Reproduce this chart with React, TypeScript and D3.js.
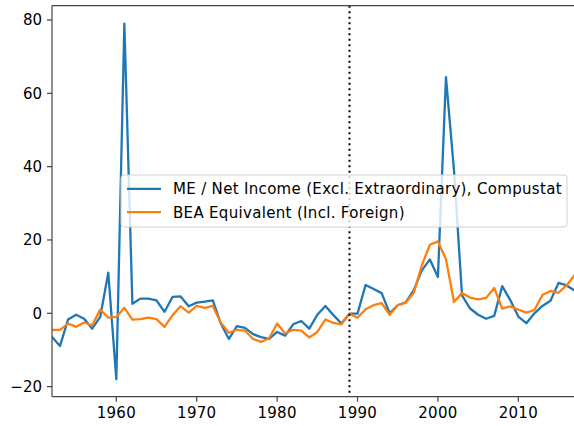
import React from "react";
import * as d3 from "d3";

const years: number[] = d3.range(1952, 2018);

const compustat: number[] = [
  -6.5, -8.9, -1.7, -0.4, -1.5, -4.2, -1.0, 11.1, -18.0, 79.0,
  2.6, 4.0, 4.0, 3.5, 0.4, 4.5, 4.6, 1.9, 2.9, 3.2,
  3.5, -2.8, -7.0, -3.5, -4.0, -5.7, -6.5, -7.0, -5.1, -6.1,
  -3.0, -2.1, -4.2, -0.4, 2.0, -0.5, -2.8, -0.1, -0.1, 7.7,
  6.6, 5.5, 0.0, 2.2, 3.0, 6.3, 11.7, 14.7, 9.9, 64.4,
  39.0, 4.9, 1.3, -0.4, -1.5, -0.7, 7.4, 3.6, -0.9, -2.7,
  0.0, 2.0, 3.4, 8.3, 7.6, 6.2,
];

const bea: number[] = [
  -4.5, -4.5, -2.8, -3.7, -2.5, -3.3, 1.0, -1.2, -1.0, 1.5,
  -1.7, -1.6, -1.2, -1.6, -3.7, -0.5, 1.9, 0.2, 2.0, 1.5,
  2.0, -2.6, -5.3, -4.5, -4.7, -7.0, -7.8, -6.8, -2.8, -5.5,
  -4.5, -4.7, -6.6, -5.1, -1.7, -2.6, -3.0, -0.1, -1.2, 1.1,
  2.2, 2.8, -0.4, 2.2, 2.9, 5.6, 13.1, 18.7, 19.6, 14.7,
  3.1, 5.5, 4.3, 3.8, 4.2, 6.9, 1.3, 1.9, 1.0, 0.2,
  0.9, 5.0, 6.1, 5.6, 7.6, 10.4,
];

const xTicks: number[] = [1960, 1970, 1980, 1990, 2000, 2010];
const yTicks: number[] = [-20, 0, 20, 40, 60, 80];
const seriesNames: string[] = [
  "ME / Net Income (Excl. Extraordinary), Compustat",
  "BEA Equivalent (Incl. Foreign)",
];
const seriesColors: string[] = ["#1f77b4", "#ff7f0e"];
const markerYear = 1989;

export default function App() {
  const W = 574;
  const H = 426;
  const left = 52;
  const right = 574.6;
  const top = 5.7;
  const bottom = 396.7;

  const x = d3.scaleLinear().domain([1952, 2017]).range([left, right]);
  const y = d3.scaleLinear().domain([-22.75, 83.9]).range([bottom, top]);

  const line = d3
    .line<number>()
    .x((_, i) => x(years[i]))
    .y((d) => y(d));

  const font = "'DejaVu Sans', sans-serif";
  const spine = "#444";
  const fs = 15;
  const lw = 2.3;

  return (
    <svg
      width={W}
      height={H}
      style={{ position: "absolute", left: 0, top: 0 }}
      fontFamily={font}
    >
      <rect width={W} height={H} fill="white" />
      <defs>
        <clipPath id="plot">
          <rect x={left} y={top} width={right - left} height={bottom - top} />
        </clipPath>
      </defs>
      <g clipPath="url(#plot)">
        <path
          d={line(compustat) || ""}
          fill="none"
          stroke={seriesColors[0]}
          strokeWidth={lw}
          strokeLinejoin="round"
          strokeLinecap="square"
        />
        <path
          d={line(bea) || ""}
          fill="none"
          stroke={seriesColors[1]}
          strokeWidth={lw}
          strokeLinejoin="round"
          strokeLinecap="square"
        />
        <line
          x1={x(markerYear)}
          x2={x(markerYear)}
          y1={top}
          y2={bottom}
          stroke="black"
          strokeWidth={2}
          strokeDasharray="2,3.5"
        />
      </g>
      {/* spines */}
      <g stroke={spine} strokeWidth={1.2} fill="none">
        <line x1={left} x2={left} y1={top} y2={bottom} />
        <line x1={left} x2={right} y1={bottom} y2={bottom} />
        <line x1={left} x2={right} y1={top} y2={top} />
        <line x1={right} x2={right} y1={top} y2={bottom} />
      </g>
      {/* x ticks */}
      {xTicks.map((t) => (
        <g key={"x" + t} transform={`translate(${x(t)},${bottom})`}>
          <line y1={0} y2={5} stroke={spine} strokeWidth={1.2} />
          <text y={21} textAnchor="middle" fontSize={fs} fill="#000" letterSpacing={0.3}>
            {t}
          </text>
        </g>
      ))}
      {/* y ticks */}
      {yTicks.map((t) => (
        <g key={"y" + t} transform={`translate(${left},${y(t)})`}>
          <line x1={-5} x2={0} stroke={spine} strokeWidth={1.2} />
          <text
            x={-10}
            dy="0.36em"
            textAnchor="end"
            fontSize={fs}
            fill="#000"
          >
            {t < 0 ? "\u2212" + Math.abs(t) : t}
          </text>
        </g>
      ))}
      {/* legend */}
      <g>
        <rect
          x={121}
          y={175}
          width={446}
          height={52}
          rx={3}
          fill="white"
          fillOpacity={0.8}
          stroke="#d0d0d0"
          strokeWidth={1}
        />
        {seriesNames.map((name, i) => (
          <g key={name} transform={`translate(0,${194.3 + i * 23.4})`}>
            <line
              x1={127}
              x2={161}
              y1={-5.5}
              y2={-5.5}
              stroke={seriesColors[i]}
              strokeWidth={lw}
            />
            <text x={173} fontSize={fs} fill="#000" letterSpacing={0.32}>
              {name}
            </text>
          </g>
        ))}
      </g>
    </svg>
  );
}
